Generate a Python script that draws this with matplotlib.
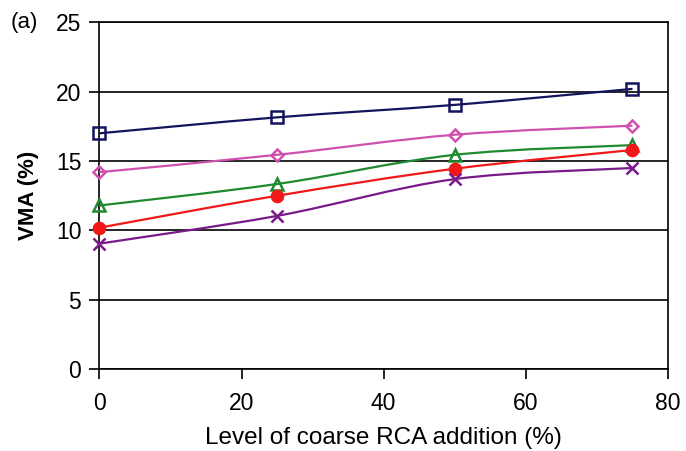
import matplotlib.pyplot as plt
import numpy as np
from matplotlib.path import Path
import matplotlib.patches as mpatches

plt.rcParams['font.family'] = ['Liberation Sans', 'DejaVu Sans']

rca = [0, 25, 50, 75]
vma_square = [17.0, 18.15, 19.05, 20.2]
vma_diamond = [14.2, 15.45, 16.9, 17.55]
vma_triangle = [11.8, 13.35, 15.45, 16.15]
vma_circle = [10.2, 12.5, 14.45, 15.8]
vma_cross = [9.05, 11.05, 13.7, 14.5]

series = [
    (vma_square, '#14145e', 's', 'none'),
    (vma_diamond, '#d050b0', 'D', 'none'),
    (vma_triangle, '#1f8a2f', '^', 'none'),
    (vma_circle, '#f01818', 'o', '#f01818'),
    (vma_cross, '#7a1a8a', 'x', 'none'),
]


def smooth_path(x, y, t=1/6):
    # Catmull-Rom style bezier through the data points (like Excel smoothing)
    x = np.asarray(x, float)
    y = np.asarray(y, float)
    verts = [(x[0], y[0])]
    codes = [Path.MOVETO]
    n = len(x)
    for i in range(n - 1):
        p0 = (x[max(i - 1, 0)], y[max(i - 1, 0)])
        p1 = (x[i], y[i])
        p2 = (x[i + 1], y[i + 1])
        p3 = (x[min(i + 2, n - 1)], y[min(i + 2, n - 1)])
        c1 = (p1[0] + (p2[0] - p0[0]) * t, p1[1] + (p2[1] - p0[1]) * t)
        c2 = (p2[0] - (p3[0] - p1[0]) * t, p2[1] - (p3[1] - p1[1]) * t)
        verts += [c1, c2, p2]
        codes += [Path.CURVE4] * 3
    return Path(verts, codes)


fig = plt.figure(figsize=(6.86, 4.51), dpi=100)
ax = fig.add_axes([0.1448, 0.1812, 0.829, 0.7694])

for vals, col, mk, fc in series:
    ax.add_patch(mpatches.PathPatch(smooth_path(rca, vals), facecolor='none',
                                    edgecolor=col, lw=1.6, zorder=3))
    ax.plot(rca, vals, linestyle='none', marker=mk, color=col,
            markerfacecolor=fc, markeredgecolor=col, markersize=8 if mk != 'D' else 6.5,
            markeredgewidth=1.8, zorder=4, clip_on=False)

ax.set_xlim(0, 80)
ax.set_ylim(0, 25)
ax.set_xticks([0, 20, 40, 60, 80])
ax.set_yticks([0, 5, 10, 15, 20, 25])
ax.yaxis.grid(True, color='black', lw=1.2)
ax.set_axisbelow(True)
for s in ax.spines.values():
    s.set_linewidth(1.2)
ax.tick_params(axis='both', labelsize=16.5, width=1.2, length=7, direction='out')
ax.tick_params(axis='x', pad=9)
ax.tick_params(axis='y', pad=6)

ax.set_xlabel('Level of coarse RCA addition (%)', fontsize=17.5, labelpad=9)
ax.set_ylabel('VMA (%)', fontsize=16, fontweight='bold', labelpad=12)
fig.text(0.015, 0.951, '(a)', fontsize=16, va='center', ha='left')

fig.savefig('out.png', dpi=100)
